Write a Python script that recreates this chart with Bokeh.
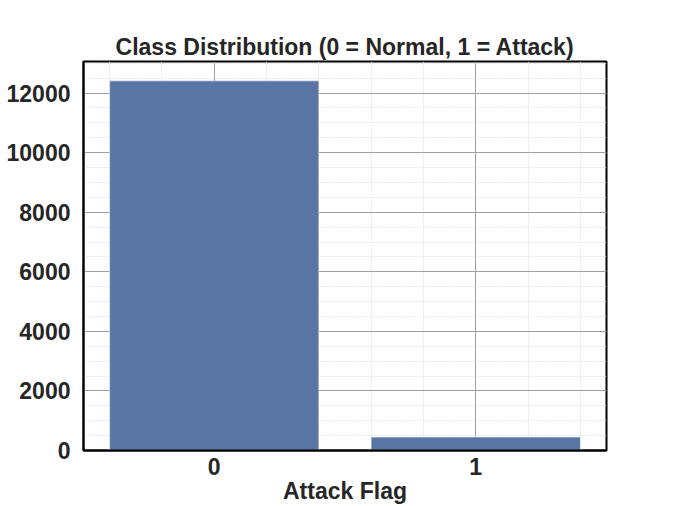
from bokeh.plotting import figure
from bokeh.models import FixedTicker, SingleIntervalTicker, Range1d
from bokeh.embed import file_html
from bokeh.resources import INLINE

categories = ["0", "1"]
counts = [12410, 450]
y_max = 13060

x = list(range(len(categories)))

p = figure(width=674, height=506, output_backend="svg", toolbar_location=None,
           x_range=Range1d(-0.5, len(categories) - 0.5), y_range=Range1d(0, y_max),
           title="Class Distribution (0 = Normal, 1 = Attack)",
           min_border_left=83, min_border_right=68, min_border_top=61, min_border_bottom=40)

p.vbar(x=x, top=counts, width=0.8, fill_color="#5975a4", line_color="white", line_width=0.5)

FONT = "Liberation Sans"
TXT = "#262626"

p.title.align = "center"
p.title.text_font = FONT
p.title.text_font_size = "23px"
p.title.text_font_style = "bold"
p.title.text_color = TXT
p.title.offset = 0
p.title.standoff = 4

p.xaxis.ticker = FixedTicker(ticks=x, minor_ticks=[-0.4, -0.2, 0.2, 0.4, 0.6, 0.8, 1.2, 1.4])
p.xaxis.major_label_overrides = {i: c for i, c in zip(x, categories)}
p.yaxis.ticker = SingleIntervalTicker(interval=2000, num_minor_ticks=4)
p.xaxis.axis_label = "Attack Flag"

for ax in (p.xaxis, p.yaxis):
    ax.major_label_text_font = FONT
    ax.major_label_text_font_size = "23px"
    ax.major_label_text_font_style = "bold"
    ax.major_label_text_color = TXT
    ax.axis_label_text_font = FONT
    ax.axis_label_text_font_size = "23px"
    ax.axis_label_text_font_style = "bold"
    ax.axis_label_text_color = TXT
    ax.major_tick_line_color = None
    ax.minor_tick_line_color = None
    ax.axis_line_color = "black"
    ax.axis_line_width = 2

p.xaxis.major_label_standoff = 1
p.xaxis.axis_label_standoff = 0
p.yaxis.major_label_standoff = 7

p.outline_line_color = "black"
p.outline_line_width = 2
p.outline_line_alpha = 1

for g in (p.xgrid, p.ygrid):
    g.grid_line_color = "#a0a0a0"
    g.grid_line_width = 1
    g.minor_grid_line_color = "#e3e3e3"
    g.minor_grid_line_width = 0.8
    g.minor_grid_line_dash = "2 1"
    g.level = "underlay"

p.background_fill_color = "white"
p.border_fill_color = "white"

open("out.html", "w").write(file_html(p, INLINE))
